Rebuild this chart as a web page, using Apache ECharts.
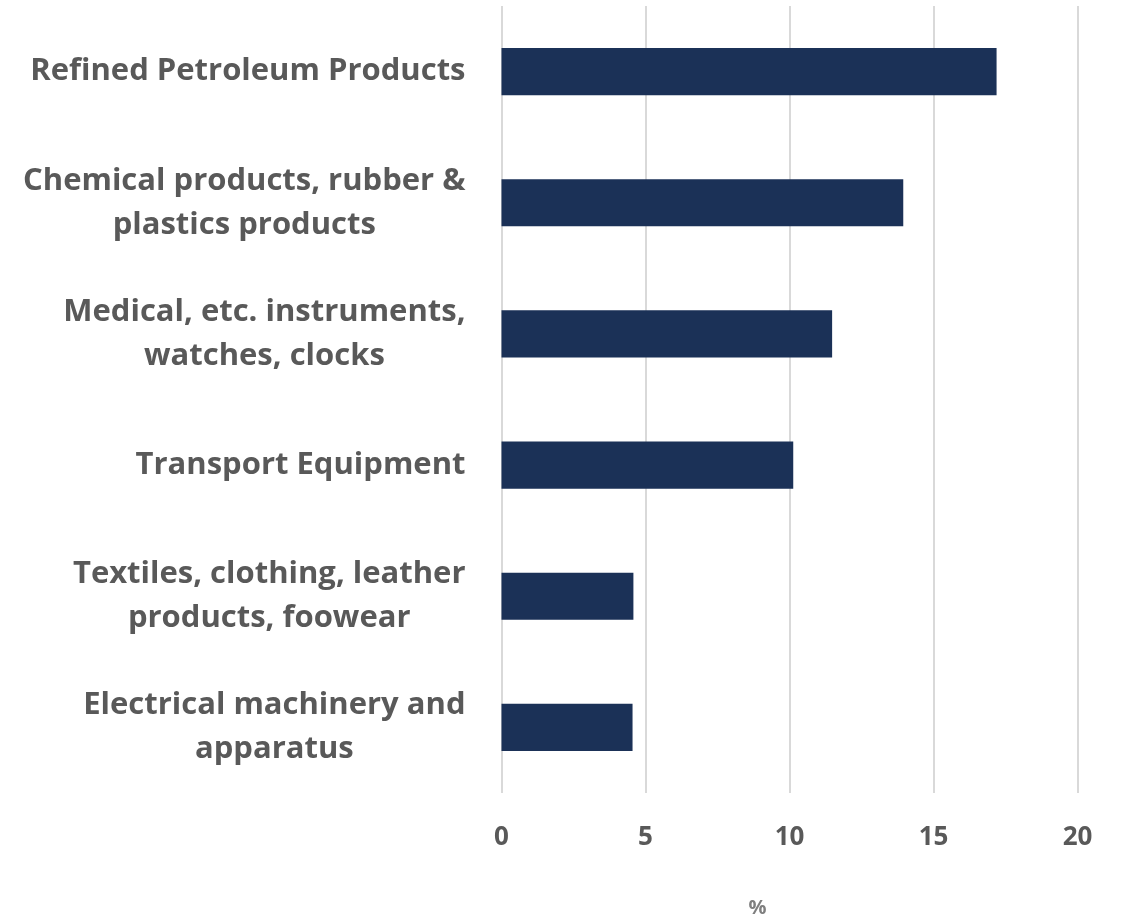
<!DOCTYPE html>
<html>
<head>
<meta charset="utf-8">
<script src="https://cdn.jsdelivr.net/npm/echarts@6/dist/echarts.min.js"></script>
<style>html,body{margin:0;padding:0;background:#fff}#c{width:1124px;height:918px}</style>
</head>
<body>
<div id="c"></div>
<script>
const categories = [
  "Electrical machinery and\napparatus",
  "Textiles, clothing, leather\nproducts, foowear",
  "Transport Equipment",
  "Medical, etc. instruments,\nwatches, clocks",
  "Chemical products, rubber &\nplastics products",
  "Refined Petroleum Products"
];
const values = [4.55, 4.58, 10.13, 11.48, 13.95, 17.19];
const xTicks = { min: 0, max: 20, interval: 5 };
const axisTitle = "%";

const chart = echarts.init(document.getElementById('c'));
chart.setOption({
  animation: false,
  grid: { left: 501.5, right: 46.5, top: 6, bottom: 125, containLabel: false, outerBoundsMode: 'none' },
  xAxis: {
    type: 'value', min: xTicks.min, max: xTicks.max, interval: xTicks.interval,
    name: axisTitle, nameLocation: 'middle', nameGap: 105,
    nameTextStyle: { color: '#7f7f7f', fontSize: 20, fontWeight: 'bold', fontFamily: 'Open Sans', padding: [0, 64, 0, 0] },
    axisLine: { show: false }, axisTick: { show: false },
    axisLabel: { color: '#595959', fontSize: 26, fontWeight: 'bold', fontFamily: 'Open Sans', margin: 32 },
    splitLine: { lineStyle: { color: '#d9d9d9', width: 2 } }
  },
  yAxis: {
    type: 'category', data: categories,
    axisLine: { show: false }, axisTick: { show: false },
    axisLabel: {
      margin: 36, align: 'right',
      formatter: v => v.split('\n').map(s => '{c|' + s + '}').join('\n'),
      rich: { c: { color: '#595959', fontSize: 31, fontWeight: 'bold', fontFamily: 'Open Sans', lineHeight: 44, align: 'center' } }
    }
  },
  series: [{
    type: 'bar', data: values, barCategoryGap: '64%',
    itemStyle: { color: '#1b3157' }
  }]
});
</script>
</body>
</html>
